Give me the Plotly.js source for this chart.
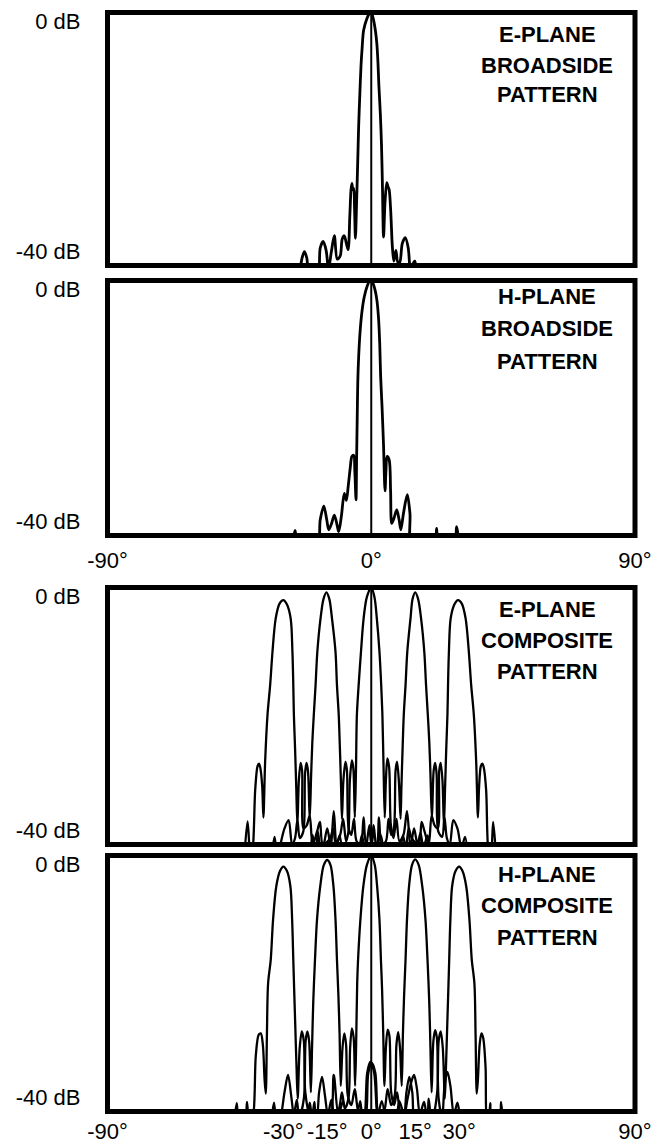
<!DOCTYPE html>
<html>
<head>
<meta charset="utf-8">
<script src="https://cdn.plot.ly/plotly-3.0.1.min.js"></script>
<style>html,body{margin:0;padding:0;background:#fff;}#chart{width:669px;height:1145px;}</style>
</head>
<body>
<div id="chart"></div>
<script>
// ---------------- DATA (angle in degrees, level in dB) ----------------
var eBroadAng = [-24.6,-23.6,-22.8,-22.0,-21.0, -18.4,-17.4,-16.4,-15.4,-14.6, -13.6,-12.6,-11.6, -10.6,-9.9,-9.2,-8.5,-7.9, -7.3,-6.9,-6.6,-6.3,-6.0,-5.7,-5.4, -5.0,-4.6,-4.3,-3.9,-3.5,-3.1,-2.6,-1.5,-0.7,0,0.6,1.4,1.9,2.3,2.6,3.1,3.5,3.8,4.2, 4.7,5.3,5.7,6.1,6.6,7.2, 7.7,8.4,9.1, 9.7,10.6,11.6,12.6,13.5, 14.2,14.9,15.6];
var eBroadDb  = [-42,-38.8,-37.8,-38.8,-42, -42,-37.2,-36.2,-37.6,-40.5, -37.8,-35.3,-39.0, -38.5,-35.8,-35.3,-36.5,-37.5, -32,-28,-27,-28,-27.8,-31,-35.7, -30,-23.3,-18,-13,-8.5,-5.5,-2.8,-1.0,-0.2,0,-0.8,-2.8,-4.9,-8,-11.5,-16,-21,-27,-35.5, -30,-26.9,-27.5,-28,-31,-37, -39.3,-37.6,-39.5, -39.5,-36.5,-35.6,-37.2,-42, -39.8,-39.3,-42];

var hBroadAng = [-27.2,-26.0,-24.8, -18.6,-17.4,-16.2,-15.2,-14.5, -13.6,-12.6,-11.6,-11.1, -10.2,-9.2,-8.5,-7.8,-7.2,-6.6,-6.0,-5.6,-5.2, -5.0,-4.8,-4.6,-4.3,-3.8,-3.2,-2.4,-1.4,-0.4,0.4,1.2,1.9,2.5,2.9,3.2,3.7,4.2,4.7, 5.0,5.4,6.1,6.6,7.0, 7.8,8.7,9.5,10.1, 11.0,12.3,13.2,14.0, 21.4,22.3,23.2, 28.2,29.1,30.0];
var hBroadDb  = [-42,-39.2,-42, -42,-37.5,-35.4,-37.5,-39.1, -38.2,-36.8,-38.5,-39.4, -37,-33.4,-34.5,-32,-29.5,-27.6,-27.4,-30,-34.4, -28,-22,-16,-12,-8,-5,-2.6,-0.9,0,-0.3,-1.3,-3,-6,-10,-15,-20,-26,-33, -30,-27.6,-28.1,-33,-38.1, -37.2,-36,-37.5,-39.1, -36.5,-33.6,-36.5,-42, -42,-38.9,-42, -42,-38.6,-42];

// E-plane composite: five scanned beams
var eCompM30Ang = [-43.3,-42.2,-41.2, -40.5,-39.6,-38.8,-38.3,-37.8,-37.2,-36.8, -36.2,-35.4,-34.5,-33.7,-32.6,-31.3,-30.0,-28.8,-27.5,-26.9,-26.6,-26.4,-26.0,-25.6,-25.2, -24.7,-24.1,-23.6,-23.1, -22.0,-21.0,-20.0, -18.5,-17.5,-16.5, -14.0,-13.0,-12.0, -10.8,-9.8];
var eCompM30Db  = [-42,-36.4,-42, -41,-31.5,-27.8,-27.4,-28.2,-31,-35.8, -27,-19.8,-15.2,-10,-4.8,-2.5,-1.95,-2.6,-4.8,-10,-15.2,-19.8,-25,-31,-37, -30,-27.3,-28.5,-37.5, -37,-35.5,-40, -38,-36.5,-40, -39,-37.5,-40.5, -38.6,-42];

var eCompM15Ang = [-34.0,-33.0,-32.0, -31.0,-29.6,-28.2,-27.0, -26.0,-25.2,-24.4, -23.2,-22.6,-22.1,-21.6,-21.0, -20.5,-20.1,-19.6,-19.0,-18.4,-17.3,-16.3,-15.3,-14.3,-13.4,-12.2,-11.7,-11.1,-10.7,-10.3,-10.0, -9.5,-8.8,-8.3,-7.7, -6.8,-5.9,-5.0, -3.6,-2.6,-1.6, 0.0,0.8,1.8, 3.2,4.4];
var eCompM15Db  = [-42,-38.8,-42, -40,-37.5,-36.2,-40, -39,-36.2,-39, -38,-29,-27.3,-28.5,-36, -29,-24,-19.8,-15.2,-10,-4.8,-1.8,-0.75,-1.8,-4.8,-10,-15.2,-19.8,-25,-31,-36, -30,-27.1,-28.5,-37.5, -38.5,-36,-39.5, -40,-35.8,-40, -40,-37,-40.5, -38.5,-42];

var eComp0Ang = [-21.0,-20.0,-19.0,-18.2,-17.2, -16.2,-15.0,-13.8,-12.8,-11.8,-10.6,-9.6,-8.6,-7.8,-7.3,-6.6,-6.1,-5.6, -5.2,-4.9,-4.3,-3.5,-2.6,-1.5,0,1.1,1.9,2.8,3.4,3.8,4.2,4.6, 5.0,5.5,6.1,6.7,7.6,8.6,9.6,11.0,12.2,13.4,14.6,15.8, 16.8,17.8,19.2,20.2];
var eComp0Db  = [-42,-38.5,-42,-38,-41, -40,-37.5,-40.5,-34.8,-39.5,-38.5,-36,-39.5,-38,-30,-26.9,-28.2,-35.8, -28,-19.8,-15.2,-10,-4.8,-1.5,0,-1.5,-4.8,-10,-15.2,-19.8,-28,-35.8, -30,-26.6,-28,-37,-39,-36,-39.5,-38.5,-34.8,-40.5,-37.5,-40, -38.2,-40.5,-38.6,-42];

var eCompP15Ang = [-4.4,-3.2,-2.2, -1.6,-0.6,0.2, 1.8,2.6,3.6, 5.0,5.9,6.8, 7.7,8.3,8.8,9.4,10.0, 10.3,10.7,11.1,11.7,12.3,13.4,14.1,15.0,16.0,17.0,18.1,18.7,19.3,19.8,20.2,20.7, 21.3,21.8,22.3,22.9, 24.2,25.0,25.8, 26.8,28.0,29.4,30.8, 32.0,33.0];
var eCompP15Db  = [-42,-38.5,-41, -40,-37,-40, -40,-35.8,-40, -39.5,-36,-38.5, -37.5,-28.5,-27.1,-30,-36, -31,-25,-19.8,-15.2,-10,-4.8,-1.8,-0.75,-1.8,-4.8,-10,-15.2,-19.8,-24,-29,-36, -28.5,-27.3,-29,-38, -38.8,-35.8,-39, -40,-36.2,-37.5,-40.5, -38.8,-42];

var eCompP30Ang = [9.8,10.8, 11.8,12.8,13.8, 16.2,17.2,18.2, 19.6,20.6,21.6, 22.7,23.2,23.7,24.3,24.8, 25.2,25.6,26.0,26.2,26.5,27.1,28.4,29.6,30.9,32.2,33.3,34.1,35.0,35.8,36.4, 36.8,37.4,37.9,38.4,39.2,40.0, 40.8,41.6,42.6];
var eCompP30Db  = [-42,-38.6, -40.5,-37.5,-39, -40,-36.5,-38, -40,-35.5,-37, -37.5,-28.5,-27.3,-30,-37, -31,-25,-19.8,-15.2,-10,-4.8,-2.6,-1.95,-2.5,-4.8,-10,-15.2,-19.8,-27,-35.8, -31,-27.8,-27.4,-28,-31.5,-41, -42,-36.5,-42];

// H-plane composite: five scanned beams
var hCompM30Ang = [-46.8,-45.9,-45.0, -43.2,-42.4,-41.6, -40.4,-39.4,-38.4,-37.7,-37.0,-36.4,-36.0, -35.6,-35.2,-34.3,-33.5,-32.4,-31.1,-30.0,-28.8,-27.6,-27.0,-26.6,-26.3,-25.9,-25.5,-25.1, -24.4,-23.7,-23.0,-22.5, -20.4,-19.4,-18.4, -14.4,-12.8,-11.2, -9.6,-8.6];
var hCompM30Db  = [-42,-38.7,-42, -42,-38.5,-42, -41,-31.3,-28,-27.8,-29.5,-35,-37.2, -28,-20,-16.3,-10,-4.8,-2.4,-1.75,-2.4,-4.8,-10,-16.3,-21,-27,-33,-38, -30,-27.5,-29,-37, -42,-38.5,-42, -42,-34.3,-40.5, -38.4,-42];

var hCompM15Ang = [-34.2,-33.2,-32.2, -31.0,-29.6,-28.4,-27.2,-26.4, -25.4,-24.6, -23.0,-22.4,-21.8,-21.2,-20.6, -20.2,-19.8,-19.2,-18.5,-17.4,-16.2,-15.0,-13.9,-12.9,-12.2,-11.7,-11.2,-10.8,-10.4, -9.8,-9.2,-8.6,-8.0, -6.8,-5.6,-4.4, -2.6,-1.4,-0.3,1.0,2.2, 3.6,4.8];
var hCompM15Db  = [-42,-38.6,-42, -41,-37,-34.3,-38,-40.5, -38.2,-41, -38,-29,-27.5,-29,-37, -30,-23,-16.3,-10,-4.8,-1.5,-0.7,-1.5,-4.8,-10,-16.3,-22,-28,-36, -30,-27.8,-29.5,-37.5, -39,-36.5,-40, -41,-34,-32.2,-34,-40.5, -38.4,-42];

var hComp0Ang = [-22.0,-21.0,-20.0, -18.8,-17.8,-16.8,-15.8,-14.8, -13.6,-12.6, -11.0,-10.0,-9.0,-7.8,-7.2,-6.6,-6.0,-5.5, -5.1,-4.8,-4.5,-3.7,-2.7,-1.5,0,1.2,2.0,2.8,3.3,3.7,4.1,4.5, 5.0,5.6,6.2,6.8,7.8,8.8,9.8,11.0,12.4,13.6,14.6,15.6,16.6, 18.0,19.0,20.0];
var hComp0Db  = [-42,-38.6,-41, -41,-37,-34.6,-37.5,-40.5, -38.2,-40.5, -39.5,-37,-39.5,-38,-30,-27,-28.5,-36, -28,-20,-16.3,-10,-4.8,-1.5,0,-1.5,-4.8,-10,-16.3,-21,-28,-36, -30,-27.2,-28.2,-37,-39,-37,-40,-41,-38,-35.5,-34.3,-36.5,-40.5, -38.5,-41,-42];

var hCompP15Ang = [-5.0,-3.8,-2.8, -2.0,-1.0,0.2,1.4,2.6, 4.4,5.6,6.8, 8.0,8.6,9.2,9.8,10.4, 10.8,11.2,11.7,12.2,12.9,13.9,15.0,16.2,17.4,18.5,19.2,19.8,20.2,20.6, 21.2,21.8,22.4,23.0, 24.2,25.0,26.0,27.0,28.2, 29.4,30.4,31.4];
var hCompP15Db  = [-42,-38.4,-41, -41,-34,-32.4,-34,-41, -40,-36.5,-39, -37.5,-29.5,-27.6,-30,-36, -28,-22,-16.3,-10,-4.8,-1.5,-0.6,-1.5,-4.8,-10,-16.3,-23,-30,-37, -29,-27.3,-28.5,-38, -41,-36,-33.8,-36,-40.5, -38.6,-41,-42];

var hCompP30Ang = [8.6,9.6, 11.2,12.0,13.0,14.0,15.2, 18.6,19.6,20.6, 22.5,23.0,23.7,24.4,25.1, 25.5,25.9,26.3,26.6,27.0,27.6,28.8,30.0,31.1,32.4,33.5,34.3,35.2,35.6,36.0, 36.4,37.0,37.6,38.2,39.0,39.6, 40.0,40.6,41.2, 43.6,44.3,45.0];
var hCompP30Db  = [-42,-38.4, -40.5,-37,-34.6,-37,-42, -42,-38,-42, -37,-29,-27.5,-30,-38, -33,-27,-21,-16.3,-10,-4.8,-2.4,-1.75,-2.4,-4.8,-10,-16.3,-20,-28,-37.2, -35,-29.5,-27.8,-28.5,-33,-42, -42,-38.7,-42, -42,-38.5,-42];

// Tick labels
var yTickText = ["0 dB", "-40 dB"];
var xTickValsTop = [-90, 0, 90];
var xTickTextTop = ["-90°", "0°", "90°"];
var xTickValsBottom = [-90, -30, -15, 0, 15, 30, 90];
var xTickTextBottom = ["-90°", "-30°", "-15°", "0°", "15°", "30°", "90°"];

// Panel texts
var panelTitles = [
  ["E-PLANE", "BROADSIDE", "PATTERN"],
  ["H-PLANE", "BROADSIDE", "PATTERN"],
  ["E-PLANE", "COMPOSITE", "PATTERN"],
  ["H-PLANE", "COMPOSITE", "PATTERN"]
];

// ---------------- LAYOUT / STYLE ----------------
var W = 669, H = 1145;
var xLeft = 107.5, xRight = 635;
var panels = [ {top: 12.5, bot: 265.5, titleY: [34, 65, 95], xStand: 4},
               {top: 280.5, bot: 535.5, titleY: [297, 329, 361], xStand: 9},
               {top: 587.5, bot: 844.5, titleY: [609, 640, 671], xStand: 4},
               {top: 855.5, bot: 1111.5, titleY: [874, 905, 937], xStand: 4} ];
var FONT = "'Liberation Sans', Arial, Helvetica, sans-serif";

var curves = [
  [ [eBroadAng, eBroadDb] ],
  [ [hBroadAng, hBroadDb] ],
  [ [eCompM30Ang, eCompM30Db], [eCompM15Ang, eCompM15Db], [eComp0Ang, eComp0Db], [eCompP15Ang, eCompP15Db], [eCompP30Ang, eCompP30Db] ],
  [ [hCompM30Ang, hCompM30Db], [hCompM15Ang, hCompM15Db], [hComp0Ang, hComp0Db], [hCompP15Ang, hCompP15Db], [hCompP30Ang, hCompP30Db] ]
];

var traces = [];
var layout = {
  width: W, height: H,
  margin: {l: 0, r: 0, t: 0, b: 0},
  paper_bgcolor: "#fff", plot_bgcolor: "#fff",
  showlegend: false,
  font: {family: FONT, size: 22, color: "#000"},
  shapes: [], annotations: []
};

panels.forEach(function (p, i) {
  var n = i + 1;
  var xa = n === 1 ? "x" : "x" + n;
  var ya = n === 1 ? "y" : "y" + n;
  var xKey = n === 1 ? "xaxis" : "xaxis" + n;
  var yKey = n === 1 ? "yaxis" : "yaxis" + n;
  var showX = (n === 2 || n === 4);
  layout[xKey] = {
    domain: [xLeft / W, xRight / W], range: [-90, 90], anchor: ya,
    showgrid: false, zeroline: false, showline: false, ticks: "",
    showticklabels: showX, tickangle: 0,
    tickmode: "array",
    tickvals: n === 4 ? xTickValsBottom : xTickValsTop,
    ticktext: n === 4 ? xTickTextBottom : xTickTextTop,
    tickfont: {family: FONT, size: 22, color: "#000"},
    ticklabelstandoff: p.xStand,
    fixedrange: true
  };
  layout[yKey] = {
    domain: [1 - p.bot / H, 1 - p.top / H], range: [-40, 0], anchor: xa,
    showgrid: false, zeroline: false, showline: false, ticks: "",
    tickmode: "array", tickvals: [-1.4, -37.8], ticktext: yTickText,
    tickfont: {family: FONT, size: 22, color: "#000"},
    ticklabelstandoff: 26,
    fixedrange: true
  };
  curves[i].forEach(function (c) {
    traces.push({
      type: "scatter", mode: "lines", x: c[0], y: c[1], xaxis: xa, yaxis: ya,
      line: {color: "#000", width: n <= 2 ? 2.8 : 2.3, shape: "spline", smoothing: 0.9},
      hoverinfo: "skip"
    });
  });
  // boresight line
  layout.shapes.push({type: "line", xref: xa, yref: ya + " domain", x0: 0, x1: 0, y0: 0, y1: 1,
    line: {color: "#000", width: 2}});
  // frame
  layout.shapes.push({type: "rect", xref: xa + " domain", yref: ya + " domain", x0: 0, x1: 1, y0: 0, y1: 1,
    line: {color: "#000", width: 5}, fillcolor: "rgba(0,0,0,0)"});
  panelTitles[i].forEach(function (t, k) {
    layout.annotations.push({text: t, xref: xa, yref: "paper", x: 60, y: 1 - p.titleY[k] / H,
      xanchor: "center", yanchor: "middle", showarrow: false,
      font: {family: FONT, size: 22, color: "#000", weight: "bold"}});
  });
});

Plotly.newPlot("chart", traces, layout, {staticPlot: true, displayModeBar: false});
</script>
</body>
</html>
